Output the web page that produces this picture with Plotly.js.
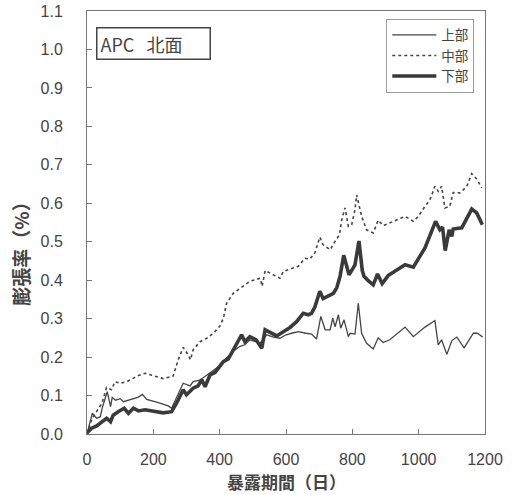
<!DOCTYPE html>
<html>
<head>
<meta charset="utf-8">
<script src="https://cdn.plot.ly/plotly-3.0.1.min.js"></script>
<style>html,body{margin:0;padding:0;background:#fff;}#chart{width:516px;height:495px;}</style>
</head>
<body>
<div id="chart"></div>
<script>
// 上部 (upper)
const upperDays = [0,16,29,40,47,61,71,76,86,100,110,125,140,155,167,180,210,245,255,270,290,311,320,340,356,371,396,411,441,461,476,491,522,542,562,582,600,617,637,660,677,692,705,718,733,741,748,758,765,775,788,793,808,818,828,843,863,878,893,913,959,984,1019,1049,1059,1069,1085,1100,1115,1137,1165,1177,1193];
const upperVals = [0.0,0.054,0.041,0.045,0.071,0.110,0.071,0.095,0.088,0.092,0.084,0.088,0.093,0.096,0.103,0.090,0.083,0.073,0.067,0.095,0.132,0.125,0.136,0.140,0.150,0.160,0.175,0.190,0.215,0.228,0.232,0.245,0.236,0.258,0.252,0.249,0.258,0.262,0.266,0.262,0.260,0.247,0.306,0.271,0.271,0.301,0.279,0.310,0.275,0.297,0.253,0.262,0.260,0.340,0.262,0.236,0.221,0.250,0.238,0.245,0.278,0.253,0.278,0.295,0.232,0.245,0.207,0.243,0.252,0.224,0.262,0.262,0.252];

// 中部 (middle)
const middleDays = [0,15,30,45,59,74,84,100,120,140,152,175,192,230,260,275,290,305,312,320,341,361,381,400,411,421,441,461,491,522,528,537,560,582,592,617,637,657,672,687,702,712,733,748,761,768,778,788,798,808,813,821,828,843,863,878,893,913,934,959,984,999,1019,1034,1049,1059,1069,1079,1094,1104,1125,1145,1160,1175,1190];
const middleVals = [0.0,0.040,0.060,0.080,0.121,0.115,0.136,0.132,0.136,0.145,0.151,0.158,0.154,0.144,0.151,0.193,0.225,0.206,0.193,0.219,0.240,0.249,0.262,0.280,0.300,0.340,0.366,0.379,0.397,0.405,0.384,0.425,0.415,0.405,0.423,0.431,0.436,0.457,0.455,0.471,0.512,0.492,0.479,0.501,0.518,0.557,0.588,0.540,0.544,0.583,0.622,0.592,0.566,0.531,0.523,0.556,0.542,0.549,0.556,0.566,0.553,0.566,0.592,0.609,0.644,0.631,0.644,0.588,0.592,0.628,0.627,0.644,0.677,0.663,0.640];

// 下部 (lower)
const lowerDays = [0,14,29,44,59,71,79,94,112,125,140,155,175,230,255,270,290,300,320,335,346,356,371,386,396,411,426,441,451,466,476,491,510,527,537,555,572,592,612,632,642,652,667,677,687,702,712,728,743,753,763,774,783,790,808,820,830,835,848,863,876,890,908,930,959,984,1019,1051,1064,1072,1080,1092,1100,1104,1130,1160,1175,1192];
const lowerVals = [0.003,0.015,0.021,0.032,0.041,0.032,0.049,0.058,0.067,0.054,0.067,0.060,0.063,0.055,0.058,0.080,0.115,0.102,0.119,0.125,0.141,0.123,0.154,0.160,0.171,0.188,0.195,0.219,0.236,0.258,0.240,0.253,0.245,0.223,0.271,0.262,0.255,0.266,0.277,0.292,0.305,0.314,0.310,0.314,0.330,0.371,0.352,0.360,0.366,0.380,0.410,0.465,0.440,0.414,0.440,0.502,0.425,0.410,0.399,0.388,0.416,0.391,0.412,0.425,0.440,0.434,0.484,0.553,0.531,0.538,0.477,0.531,0.514,0.533,0.536,0.585,0.575,0.544];

const seriesNames = ['上部','中部','下部'];
const yTickVals = [0,0.1,0.2,0.3,0.4,0.5,0.6,0.7,0.8,0.9,1.0,1.1];
const xTickVals = [0,200,400,600,800,1000,1200];

const FONT = 'Liberation Sans, Arial, Noto Sans CJK JP, sans-serif';
const CJK = 'Noto Sans CJK JP, Liberation Sans, sans-serif';
const ink = '#444';

const traces = [
  {x: upperDays, y: upperVals, name: seriesNames[0], mode: 'lines', line: {color: ink, width: 1.3}},
  {x: middleDays, y: middleVals, name: seriesNames[1], mode: 'lines', line: {color: ink, width: 1.6, dash: 'dot'}},
  {x: lowerDays, y: lowerVals, name: seriesNames[2], mode: 'lines', line: {color: '#3a3a3a', width: 3.6}}
];

const layout = {
  width: 516, height: 495,
  margin: {l: 87, r: 31, t: 11, b: 61},
  paper_bgcolor: '#fff', plot_bgcolor: '#fff',
  font: {family: FONT, color: ink, size: 16},
  showlegend: true,
  legend: {
    x: 0.752, y: 0.982, xanchor: 'left', yanchor: 'top',
    bgcolor: '#fff', bordercolor: '#999', borderwidth: 1,
    font: {family: CJK, size: 13.5, color: ink},
    tracegroupgap: 0, itemwidth: 44
  },
  xaxis: {
    range: [0, 1200], tickvals: xTickVals, ticks: 'inside', ticklen: 5, tickcolor: '#777',
    showline: true, linecolor: '#777', linewidth: 1, mirror: true, showgrid: false, zeroline: false,
    tickfont: {size: 16, family: FONT, color: ink}, ticklabelstandoff: 11
  },
  yaxis: {
    range: [0, 1.1], tickvals: yTickVals, tickformat: '.1f', ticks: 'inside', ticklen: 5, tickcolor: '#777',
    showline: true, linecolor: '#777', linewidth: 1, mirror: true, showgrid: false, zeroline: false,
    tickfont: {size: 16, family: FONT, color: ink}, ticklabelstandoff: 20
  },
  annotations: [
    {xref: 'paper', yref: 'paper', x: 0.022, y: 0.963, xanchor: 'left', yanchor: 'top',
     text: 'APC\u00a0\u00a0\u00a0北面', showarrow: false, font: {family: CJK, size: 18, color: ink},
     width: 106, height: 24, align: 'left',
     bordercolor: '#444', borderwidth: 1.5, borderpad: 3, bgcolor: '#fff'},
    {xref: 'paper', yref: 'paper', x: -0.166, y: 0.438, xanchor: 'center', yanchor: 'middle',
     text: '<b>膨張率（%）</b>', textangle: -90, showarrow: false, font: {family: CJK, size: 19, color: ink}},
    {xref: 'paper', yref: 'paper', x: 0.5, y: -0.113, xanchor: 'center', yanchor: 'middle',
     text: '<b>暴露期間（日）</b>', showarrow: false, font: {family: CJK, size: 17, color: ink}}
  ]
};

Plotly.newPlot('chart', traces, layout, {displayModeBar: false, staticPlot: true});
</script>
</body>
</html>
